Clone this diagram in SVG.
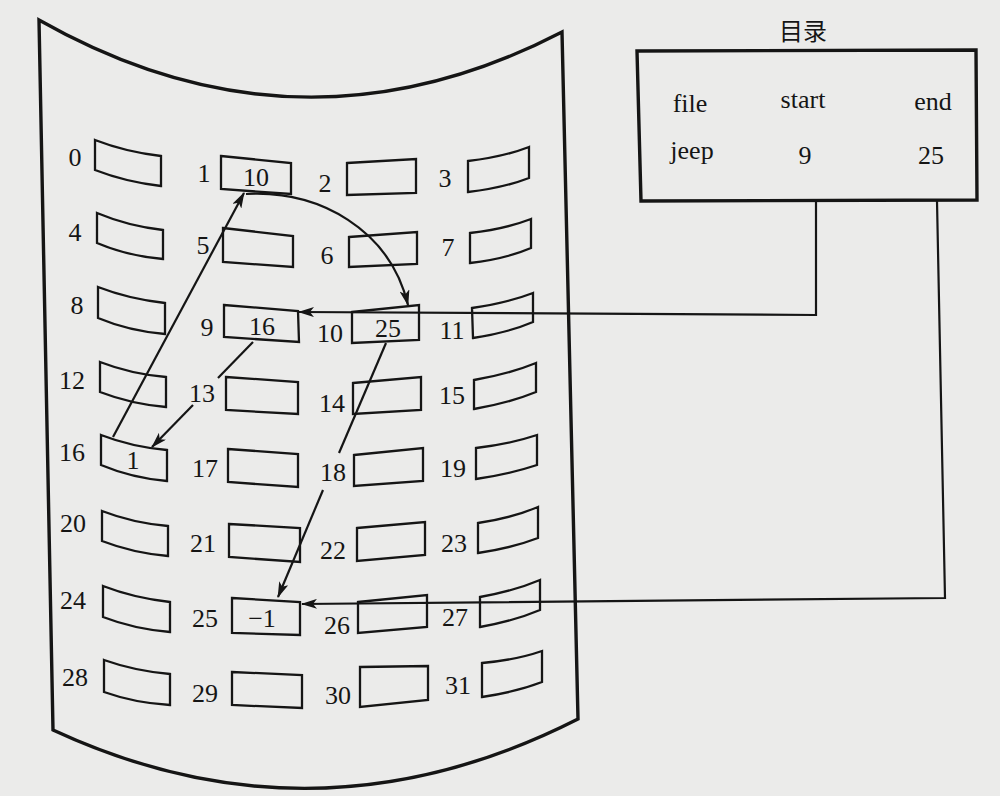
<svg xmlns="http://www.w3.org/2000/svg" width="1000" height="796" viewBox="0 0 1000 796">
<defs>
<marker id="ah" viewBox="0 0 16 10" refX="15" refY="5" markerWidth="16" markerHeight="10" markerUnits="userSpaceOnUse" orient="auto">
<path d="M0,0 L16,5 L0,10 L4,5 Z" fill="#151515"/>
</marker>
<style>
.bg{fill:#ebebea}
.disk{fill:none;stroke:#151515;stroke-width:3.4;stroke-linejoin:miter}
.blk{fill:none;stroke:#151515;stroke-width:2.3}
.lbl{font-family:"Liberation Serif","DejaVu Serif",serif;font-size:26px;fill:#151515;text-anchor:middle}
.cjk{font-family:"Noto Sans CJK SC",sans-serif;font-size:24px;fill:#151515;text-anchor:middle}
.ln{fill:none;stroke:#151515;stroke-width:2.2}
</style>
</defs>
<rect class="bg" x="0" y="0" width="1000" height="796"/>
<g id="disk">
<path class="disk" d="M39,20 Q300,168 562,32 L578,719 Q316,852 53,730 Z"/>
</g>
<g id="blocks">
<g id="b0"><path class="blk" d="M95,140 Q126,152 161,156 L161,186 Q126,182 95,170 Z"/><text class="lbl" x="75" y="166">0</text></g>
<g id="b1"><path class="blk" d="M221,156 L291,163 L291,194 L221,189 Z"/><text class="lbl" x="204" y="182">1</text><text class="lbl" x="256" y="186">10</text></g>
<g id="b2"><path class="blk" d="M347,163 L416,159 L416,193 L347,195 Z"/><text class="lbl" x="325" y="192">2</text></g>
<g id="b3"><path class="blk" d="M468,161 Q503,157 529,147 L529,178 Q503,188 468,192 Z"/><text class="lbl" x="445" y="187">3</text></g>

<g id="b4"><path class="blk" d="M97,213 Q128,226 163,230 L163,259 Q128,256 97,243 Z"/><text class="lbl" x="75" y="241">4</text></g>
<g id="b5"><path class="blk" d="M223,228 L293,236 L293,267 L223,262 Z"/><text class="lbl" x="203" y="254">5</text></g>
<g id="b6"><path class="blk" d="M349,237 L417,232 L417,264 L349,267 Z"/><text class="lbl" x="327" y="264">6</text></g>
<g id="b7"><path class="blk" d="M470,233 Q505,229 531,219 L531,248 Q505,259 470,263 Z"/><text class="lbl" x="448" y="256">7</text></g>

<g id="b8"><path class="blk" d="M98,287 Q129,299 165,303 L165,334 Q129,331 98,318 Z"/><text class="lbl" x="77" y="314">8</text></g>
<g id="b9"><path class="blk" d="M224,305 L298,311 L299,342 L224,337 Z"/><text class="lbl" x="207" y="336">9</text><text class="lbl" x="262" y="335">16</text></g>
<g id="b10"><path class="blk" d="M352,312 L419,305 L419,340 L352,343 Z"/><text class="lbl" x="330" y="342">10</text><text class="lbl" x="388" y="337">25</text></g>
<g id="b11"><path class="blk" d="M472,308 Q507,303 533,293 L533,322 Q507,333 473,338 Z"/><text class="lbl" x="452" y="339">11</text></g>

<g id="b12"><path class="blk" d="M100,362 Q131,374 166,377 L166,407 Q131,404 100,392 Z"/><text class="lbl" x="72" y="389">12</text></g>
<g id="b13"><path class="blk" d="M226,377 L298,382 L298,414 L226,410 Z"/><text class="lbl" x="202" y="402">13</text></g>
<g id="b14"><path class="blk" d="M353,383 L421,377 L421,410 L353,414 Z"/><text class="lbl" x="332" y="412">14</text></g>
<g id="b15"><path class="blk" d="M474,380 Q509,374 536,363 L536,392 Q509,403 474,409 Z"/><text class="lbl" x="452" y="404">15</text></g>

<g id="b16"><path class="blk" d="M101,435 Q132,447 167,450 L167,481 Q132,478 101,465 Z"/><text class="lbl" x="72" y="461">16</text><text class="lbl" x="133" y="469">1</text></g>
<g id="b17"><path class="blk" d="M228,449 L298,454 L298,487 L228,482 Z"/><text class="lbl" x="205" y="477">17</text></g>
<g id="b18"><path class="blk" d="M354,455 L423,448 L423,481 L354,486 Z"/><text class="lbl" x="333" y="481">18</text></g>
<g id="b19"><path class="blk" d="M476,448 Q510,444 537,435 L537,465 Q510,474 476,479 Z"/><text class="lbl" x="453" y="477">19</text></g>

<g id="b20"><path class="blk" d="M102,511 Q133,523 168,526 L168,556 Q133,553 102,541 Z"/><text class="lbl" x="73" y="532">20</text></g>
<g id="b21"><path class="blk" d="M229,524 L300,528 L300,562 L229,557 Z"/><text class="lbl" x="203" y="552">21</text></g>
<g id="b22"><path class="blk" d="M357,528 L425,522 L425,555 L357,561 Z"/><text class="lbl" x="333" y="559">22</text></g>
<g id="b23"><path class="blk" d="M478,523 Q512,518 538,507 L538,538 Q512,548 478,553 Z"/><text class="lbl" x="454" y="552">23</text></g>

<g id="b24"><path class="blk" d="M103,586 Q134,598 170,602 L170,632 Q134,629 103,617 Z"/><text class="lbl" x="73" y="609">24</text></g>
<g id="b25"><path class="blk" d="M232,598 L300,602 L300,635 L232,633 Z"/><text class="lbl" x="205" y="627">25</text><text class="lbl" x="262" y="627">−1</text></g>
<g id="b26"><path class="blk" d="M358,602 L427,595 L427,627 L358,633 Z"/><text class="lbl" x="337" y="634">26</text></g>
<g id="b27"><path class="blk" d="M480,597 Q514,591 540,580 L540,610 Q514,621 480,627 Z"/><text class="lbl" x="455" y="626">27</text></g>

<g id="b28"><path class="blk" d="M104,660 Q135,671 170,674 L170,705 Q135,703 104,692 Z"/><text class="lbl" x="75" y="686">28</text></g>
<g id="b29"><path class="blk" d="M232,672 L302,675 L302,708 L232,705 Z"/><text class="lbl" x="205" y="702">29</text></g>
<g id="b30"><path class="blk" d="M360,667 L428,666 L428,700 L360,707 Z"/><text class="lbl" x="338" y="704">30</text></g>
<g id="b31"><path class="blk" d="M482,663 Q516,660 542,651 L542,682 Q516,692 482,697 Z"/><text class="lbl" x="458" y="694">31</text></g>
</g>
<g id="directory">
<text class="cjk" x="803" y="40">目录</text>
<path class="disk" d="M637,51 L976,50 L977,200 L641,201 Z"/>
<text class="lbl" x="690" y="112">file</text>
<text class="lbl" x="803" y="108">start</text>
<text class="lbl" x="933" y="110">end</text>
<text class="lbl" x="692" y="159">jeep</text>
<text class="lbl" x="805" y="164">9</text>
<text class="lbl" x="931" y="164">25</text>
</g>
<g id="connectors">
<path class="ln" d="M816,201 L816,315 L299,312" marker-end="url(#ah)"/>
<path class="ln" d="M937,201 L945,598 L302,604" marker-end="url(#ah)"/>
<path class="ln" d="M246,194 C320,190 390,230 408,305" marker-end="url(#ah)"/>
<path class="ln" d="M113,437 L244,193" marker-end="url(#ah)"/>
<path class="ln" d="M253,342 L218,378"/>
<path class="ln" d="M193,405 L152,447" marker-end="url(#ah)"/>
<path class="ln" d="M386,343 L339,453"/>
<path class="ln" d="M323,490 L278,597" marker-end="url(#ah)"/>
</g>
</svg>
